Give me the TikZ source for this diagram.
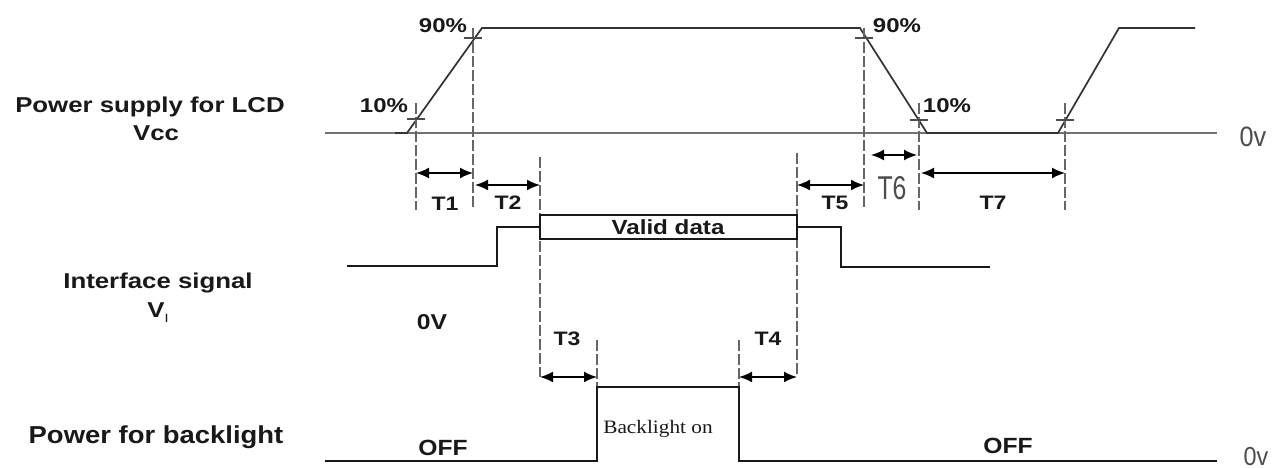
\documentclass[tikz,border=0pt]{standalone}
\usepackage{graphicx}
\usepackage{fontspec}
\setmainfont{Liberation Sans}
\newfontfamily\serifx{Liberation Serif}
\usetikzlibrary{arrows.meta}
\newcommand\hsx[2]{\scalebox{#1}[1]{#2}}
\newcommand\fsz[1]{\fontsize{#1}{#1}\selectfont}
\begin{document}
\begin{tikzpicture}[x=1pt,y=-1pt,
  vsig/.style={line width=1.7pt, draw=black!80, line join=miter},
  sig/.style={line width=2.2pt, draw=black!90, line join=miter},
  base/.style={line width=1.5pt, draw=black!55},
  guide/.style={line width=1.2pt, draw=black!60, dash pattern=on 11pt off 3pt},
  crossmark/.style={line width=1.3pt, draw=black!70},
  dimarrow/.style={line width=1.8pt, draw=black, {Latex[length=13pt,width=11pt]}-{Latex[length=13pt,width=11pt]}},
  lbl/.style={inner sep=0pt, anchor=base, text=black!90},
  thin/.style={inner sep=0pt, anchor=base, text=black!70},
]
\useasboundingbox (0,0) rectangle (1272,468);
\fill[white] (0,0) rectangle (1272,468);

% ---- left labels
\node[lbl] (lcdA) at (150,113) {\fsz{21.5}\bfseries\hsx{1.2}{Power supply for LCD}};
\node[lbl] (lcdB) at (156,141) {\fsz{21.5}\bfseries\hsx{1.2}{Vcc}};
\node[lbl] (ifA) at (158,288) {\fsz{21.5}\bfseries\hsx{1.2}{Interface signal}};
\node[lbl] (ifB) at (158,317) {\fsz{21.5}\bfseries\hsx{1.2}{V\raisebox{-5pt}{\fsz{12}\mdseries I}}};
\node[lbl] (blA) at (156,443) {\fsz{24.5}\bfseries\hsx{1.12}{Power for backlight}};

% ---- Vcc waveform
\coordinate (vb0) at (325,133);
\coordinate (vb1) at (1217,133);
\draw[base] (vb0) -- (vb1);
\draw[vsig] (395,133) -- (407,133) -- (482,28) -- (860,28) -- (927,133) -- (1058,133) -- (1119,28) -- (1195,28);

% ---- guides
\coordinate (g1t) at (416,103);  \coordinate (g1b) at (416,210);
\coordinate (g2t) at (473,28);   \coordinate (g2b) at (473,210);
\coordinate (g3t) at (540,157);  \coordinate (g3b) at (540,377);
\coordinate (g4t) at (797,153);  \coordinate (g4b) at (797,377);
\coordinate (g5t) at (864,28);   \coordinate (g5b) at (864,210);
\coordinate (g6t) at (919,103);  \coordinate (g6b) at (919,210);
\coordinate (g7t) at (1065,103); \coordinate (g7b) at (1065,210);
\coordinate (g8t) at (597,340);  \coordinate (g8b) at (597,387);
\coordinate (g9t) at (739,340);  \coordinate (g9b) at (739,387);
\foreach \g in {1,...,9} {\draw[guide] (g\g t) -- (g\g b);}

% ---- cross marks
\draw[crossmark] (407,119) -- (425,119);
\draw[crossmark] (464,38) -- (482,38);
\draw[crossmark] (855,38) -- (873,38);
\draw[crossmark] (910,120) -- (928,120);
\draw[crossmark] (1056,120) -- (1074,120);

% ---- percentage labels
\node[lbl] (p90a) at (443,33) {\fsz{20}\bfseries\hsx{1.2}{90\%}};
\node[lbl] (p10a) at (384,113) {\fsz{20}\bfseries\hsx{1.2}{10\%}};
\node[lbl] (p90b) at (897,33) {\fsz{20}\bfseries\hsx{1.2}{90\%}};
\node[lbl] (p10b) at (947,113) {\fsz{20}\bfseries\hsx{1.2}{10\%}};
\node[thin] (zv1) at (1253,147) {\fsz{28}\hsx{0.9}{0v}};

% ---- time arrows
\coordinate (a1l) at (416,173); \coordinate (a1r) at (473,173);
\coordinate (a2l) at (475,185); \coordinate (a2r) at (540,185);
\coordinate (a5l) at (797,185); \coordinate (a5r) at (864,185);
\coordinate (a6l) at (871,155); \coordinate (a6r) at (917,155);
\coordinate (a7l) at (921,173); \coordinate (a7r) at (1065,173);
\coordinate (a3l) at (540,377); \coordinate (a3r) at (597,377);
\coordinate (a4l) at (739,377); \coordinate (a4r) at (797,377);
\draw[dimarrow] (a1l) -- (a1r);
\draw[dimarrow] (a2l) -- (a2r);
\draw[dimarrow] (a5l) -- (a5r);
\draw[dimarrow] (a6l) -- (a6r);
\draw[dimarrow] (a7l) -- (a7r);
\draw[dimarrow] (a3l) -- (a3r);
\draw[dimarrow] (a4l) -- (a4r);
\node[lbl] (t1) at (445,210) {\fsz{19.5}\bfseries\hsx{1.18}{T1}};
\node[lbl] (t2) at (508,209) {\fsz{19.5}\bfseries\hsx{1.18}{T2}};
\node[lbl] (t5) at (835,209) {\fsz{19.5}\bfseries\hsx{1.18}{T5}};
\node[thin] (t6) at (892,200) {\fsz{33}\hsx{0.75}{T6}};
\node[lbl] (t7) at (993,209) {\fsz{19.5}\bfseries\hsx{1.18}{T7}};
\node[lbl] (t3) at (567,345) {\fsz{19.5}\bfseries\hsx{1.18}{T3}};
\node[lbl] (t4) at (768,345) {\fsz{19.5}\bfseries\hsx{1.18}{T4}};

% ---- interface signal
\draw[sig] (347,266) -- (497,266) -- (497,227) -- (540,227);
\draw[sig] (540,215) rectangle (797,239);
\draw[sig] (797,227) -- (841,227) -- (841,267) -- (990,267);
\node[lbl] (vd) at (668,234) {\fsz{20.5}\bfseries\hsx{1.18}{Valid data}};
\node[lbl] (z0) at (432,329) {\fsz{21.5}\bfseries\hsx{1.15}{0V}};

% ---- backlight
\draw[sig] (325,461) -- (597,461) -- (597,387) -- (739,387) -- (739,461) -- (1217,461);
\node[lbl] (blon) at (658,433) {\serifx\fsz{19}\hsx{1.12}{Backlight on}};
\node[lbl] (off1) at (443,455) {\fsz{22}\bfseries\hsx{1.12}{OFF}};
\node[lbl] (off2) at (1008,453) {\fsz{22}\bfseries\hsx{1.12}{OFF}};
\node[thin] (zv2) at (1256,465) {\fsz{26}\hsx{0.9}{0v}};
\end{tikzpicture}
\end{document}
